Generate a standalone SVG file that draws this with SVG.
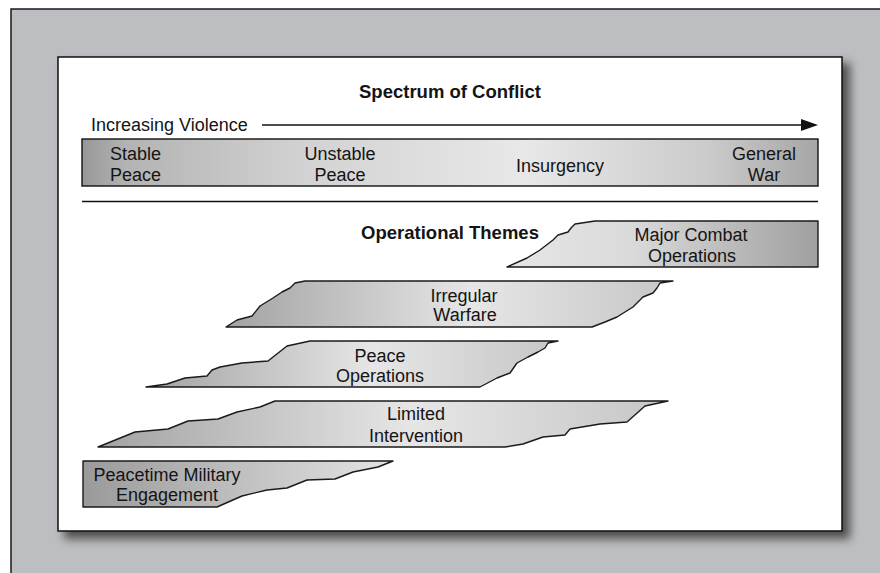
<svg xmlns="http://www.w3.org/2000/svg" width="880" height="573" viewBox="0 0 880 573">
<style>
  text { font-family: "Liberation Sans", Arial, sans-serif; font-size: 18px; fill: #141414; }
  .b { font-weight: bold; font-size: 18.5px; }
  .c { text-anchor: middle; }
  .shape { stroke: #1a1a1a; stroke-width: 1.4; stroke-linejoin: round; }
</style>
<defs>
  <linearGradient id="gBar" gradientUnits="userSpaceOnUse" x1="82" y1="0" x2="818" y2="0">
    <stop offset="0" stop-color="#979797"/>
    <stop offset="0.06" stop-color="#b3b3b3"/>
    <stop offset="0.3" stop-color="#d2d2d2"/>
    <stop offset="0.6" stop-color="#e8e8e8"/>
    <stop offset="0.85" stop-color="#cbcbcb"/>
    <stop offset="1" stop-color="#a6a6a6"/>
  </linearGradient>
  <linearGradient id="gLeft" x1="0" y1="0" x2="1" y2="0">
    <stop offset="0" stop-color="#9a9a9a"/>
    <stop offset="1" stop-color="#e4e4e4"/>
  </linearGradient>
  <linearGradient id="gMid" x1="0" y1="0" x2="1" y2="0">
    <stop offset="0" stop-color="#a2a2a2"/>
    <stop offset="0.55" stop-color="#e6e6e6"/>
    <stop offset="1" stop-color="#c6c6c6"/>
  </linearGradient>
  <linearGradient id="gRight" x1="0" y1="0" x2="1" y2="0">
    <stop offset="0" stop-color="#e6e6e6"/>
    <stop offset="0.4" stop-color="#dadada"/>
    <stop offset="1" stop-color="#a0a0a0"/>
  </linearGradient>
  <filter id="shadow" x="-5%" y="-5%" width="115%" height="120%">
    <feGaussianBlur stdDeviation="5"/>
  </filter>
</defs>

<!-- background -->
<rect x="0" y="0" width="880" height="573" fill="#ffffff"/>
<rect x="11" y="9" width="880" height="580" fill="#bdbec1" stroke="#1a1a1a" stroke-width="1.5"/>

<!-- panel -->
<rect x="64" y="63" width="786" height="476" fill="#3a3a3a" opacity="0.85" filter="url(#shadow)"/>
<rect x="58" y="57" width="784" height="474" fill="#ffffff" stroke="#111" stroke-width="1.5"/>

<!-- header -->
<g id="title">
  <text class="b c" x="450" y="98">Spectrum of Conflict</text>
</g>
<g id="violence">
  <text x="91" y="131">Increasing Violence</text>
</g>

<g id="connectors">
  <line x1="262" y1="125" x2="804" y2="125" stroke="#111" stroke-width="1.4"/>
  <polygon points="801,119 818,125 801,131" fill="#111"/>
  <line x1="82" y1="201.5" x2="818" y2="201.5" stroke="#111" stroke-width="1.4"/>
</g>

<g id="spectrum">
  <rect x="82" y="139" width="736" height="47" fill="url(#gBar)" stroke="#111" stroke-width="1.4"/>
  <text x="110" y="160">Stable</text>
  <text x="110" y="181">Peace</text>
  <text class="c" x="340" y="159.5">Unstable</text>
  <text class="c" x="340" y="180.5">Peace</text>
  <text class="c" x="560" y="171.5">Insurgency</text>
  <text class="c" x="764" y="159.5">General</text>
  <text class="c" x="764" y="180.5">War</text>
</g>

<g id="themes-title">
  <text class="b c" x="450" y="239">Operational Themes</text>
</g>

<g id="major-combat">
  <path class="shape" fill="url(#gRight)" d="M595,221 L818,221 L818,267 L507,267 L527,258 L540,250 L553,240 L558,235 L568,232 L571,228 L575,224 Z"/>
  <text class="c" x="691" y="241">Major Combat</text>
  <text class="c" x="692" y="262">Operations</text>
</g>

<g id="irregular-warfare">
  <path class="shape" fill="url(#gMid)" d="M305,281 L673,281 L660,283 L657,288 L653,293 L643,297 L633,307 L617,317 L605,322 L592,327 L226,327 L237,320 L252,316 L260,306 L273,298 L282,292 L290,288 L295,283 Z"/>
  <text class="c" x="464" y="302">Irregular</text>
  <text class="c" x="465" y="321">Warfare</text>
</g>

<g id="peace-operations">
  <path class="shape" fill="url(#gMid)" d="M310,341 L558,341 L548,343 L545,348 L538,352 L528,357 L517,363 L510,373 L497,378 L480,387 L146,387 L167,384 L185,378 L207,376 L212,370 L220,367 L242,363 L268,361 L287,346 Z"/>
  <text class="c" x="380" y="362">Peace</text>
  <text class="c" x="380" y="382">Operations</text>
</g>

<g id="limited-intervention">
  <path class="shape" fill="url(#gMid)" d="M275,401 L668,401 L645,406 L627,422 L600,424 L570,429 L565,435 L543,437 L523,444 L505,447 L98,447 L135,432 L168,429 L188,421 L218,419 L237,412 L260,407 Z"/>
  <text class="c" x="416" y="420">Limited</text>
  <text class="c" x="416" y="442">Intervention</text>
</g>

<g id="peacetime-engagement">
  <path class="shape" fill="url(#gLeft)" d="M83,461 L393,461 L378,467 L353,472 L335,479 L307,480 L287,488 L267,490 L242,496 L217,507 L83,507 Z"/>
  <text class="c" x="167" y="481">Peacetime Military</text>
  <text class="c" x="167" y="501">Engagement</text>
</g>
</svg>
